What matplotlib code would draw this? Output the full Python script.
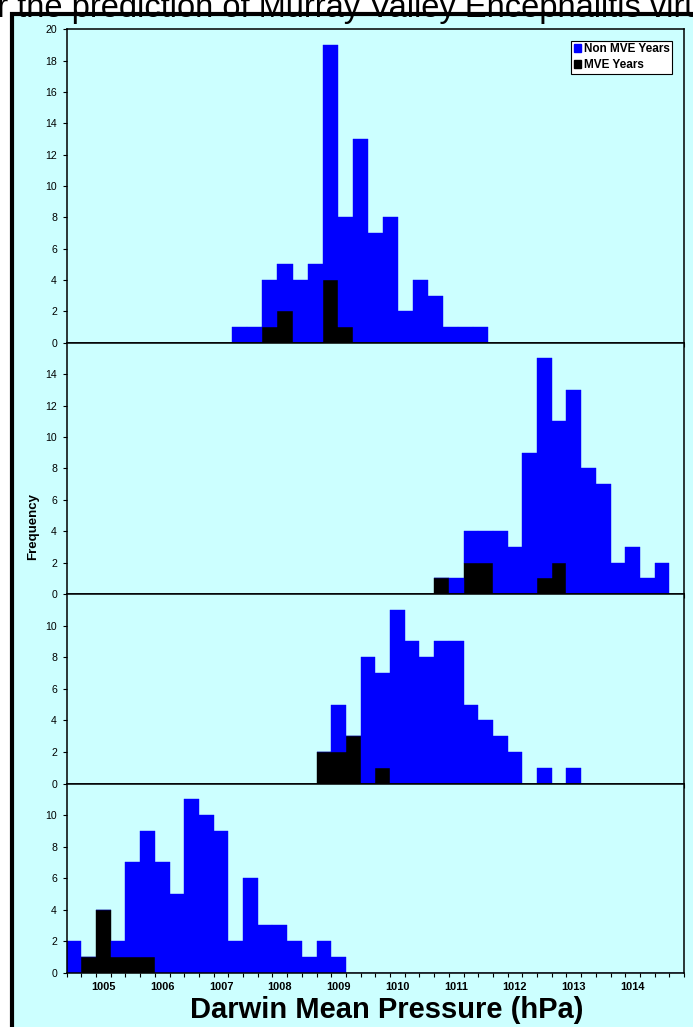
import numpy as np
import matplotlib.pyplot as plt
from matplotlib.patches import Rectangle, Patch

W, H = 693, 1027
plt.rcParams['font.family'] = ['Liberation Sans', 'DejaVu Sans']

# bin centres in hPa (0.25 hPa bins); the autumn chart has one bin fewer
bins_autumn = 1004.5 + 0.25 * np.arange(41)
bins_other = 1004.5 + 0.25 * np.arange(42)

# counts per bin, Non MVE years stacked on MVE years
autumn_non = [0, 0, 0, 0, 0, 0, 0, 0, 0, 0, 0, 1, 1, 3, 3, 4, 5, 15, 7, 13, 7,
              8, 2, 4, 3, 1, 1, 1, 0, 0, 0, 0, 0, 0, 0, 0, 0, 0, 0, 0, 0]
autumn_mve = [0, 0, 0, 0, 0, 0, 0, 0, 0, 0, 0, 0, 0, 1, 2, 0, 0, 4, 1, 0, 0,
              0, 0, 0, 0, 0, 0, 0, 0, 0, 0, 0, 0, 0, 0, 0, 0, 0, 0, 0, 0]

winter_non = [0, 0, 0, 0, 0, 0, 0, 0, 0, 0, 0, 0, 0, 0, 0, 0, 0, 0, 0, 0, 0,
              0, 0, 0, 0, 0, 1, 2, 2, 4, 3, 9, 14, 9, 13, 8, 7, 2, 3, 1, 2, 0]
winter_mve = [0, 0, 0, 0, 0, 0, 0, 0, 0, 0, 0, 0, 0, 0, 0, 0, 0, 0, 0, 0, 0,
              0, 0, 0, 0, 1, 0, 2, 2, 0, 0, 0, 1, 2, 0, 0, 0, 0, 0, 0, 0, 0]

spring_non = [0, 0, 0, 0, 0, 0, 0, 0, 0, 0, 0, 0, 0, 0, 0, 0, 0, 0, 3, 0, 8,
              6, 11, 9, 8, 9, 9, 5, 4, 3, 2, 0, 1, 0, 1, 0, 0, 0, 0, 0, 0, 0]
spring_mve = [0, 0, 0, 0, 0, 0, 0, 0, 0, 0, 0, 0, 0, 0, 0, 0, 0, 2, 2, 3, 0,
              1, 0, 0, 0, 0, 0, 0, 0, 0, 0, 0, 0, 0, 0, 0, 0, 0, 0, 0, 0, 0]

summer_non = [2, 0, 0, 1, 6, 8, 7, 5, 11, 10, 9, 2, 6, 3, 3, 2, 1, 2, 1, 0, 0,
              0, 0, 0, 0, 0, 0, 0, 0, 0, 0, 0, 0, 0, 0, 0, 0, 0, 0, 0, 0, 0]
summer_mve = [0, 1, 4, 1, 1, 1, 0, 0, 0, 0, 0, 0, 0, 0, 0, 0, 0, 0, 0, 0, 0,
              0, 0, 0, 0, 0, 0, 0, 0, 0, 0, 0, 0, 0, 0, 0, 0, 0, 0, 0, 0, 0]

tick_labels = ['1005', '1006', '1007', '1008', '1009', '1010', '1011', '1012', '1013', '1014']
tick_values = [1005, 1006, 1007, 1008, 1009, 1010, 1011, 1012, 1013, 1014]

BG = '#ccffff'
BLUE = '#0000ff'


def fx(px):
    return px / W


def fy(py):
    return 1 - py / H


fig = plt.figure(figsize=(W / 100, H / 100), dpi=100)
fig.patch.set_facecolor('white')

# cyan chart frame (cut off at right and bottom in the source), on a background axes
bg = fig.add_axes([0, 0, 1, 1], zorder=-5)
bg.set_xlim(0, W)
bg.set_ylim(H, 0)
bg.axis('off')
bg.add_patch(Rectangle((12, 14), W + 20, H + 20, facecolor=BG, edgecolor='black', linewidth=3))
bg.text(-30, 17, 'for the prediction of Murray Valley Encephalitis virus',
        fontsize=23.5, va='baseline', ha='left')

# (top, bottom, ymax, top labelled tick, bins, non, mve, title, title position)
panels = [
    (29.3, 342.7, 20, 20, bins_autumn, autumn_non, autumn_mve, 'March-May\n(Autumn)', (438, 101)),
    (342.7, 594, 16, 14, bins_other, winter_non, winter_mve, 'June-August\n(Winter)', (447, 431)),
    (594, 783.5, 12, 10, bins_other, spring_non, spring_mve, 'September-November\n(Spring)', (263, 654)),
    (783.5, 972.7, 12, 10, bins_other, summer_non, summer_mve, 'December-February\n(Summer)', (359, 852)),
]

left, right = 66.7, 684
axes = []
for top, bottom, ymax, ytop, bins, non, mve, title, (tx, ty) in panels:
    ax = fig.add_axes([fx(left), fy(bottom), fx(right - left), (bottom - top) / H])
    ax.set_facecolor(BG)
    ax.bar(bins, mve, width=0.25, color='black', edgecolor='black', linewidth=0.3)
    ax.bar(bins, non, width=0.25, bottom=mve, color=BLUE, edgecolor=BLUE, linewidth=0.3)
    edges = np.append(bins - 0.125, bins[-1] + 0.125)
    ax.set_xlim(edges[0], edges[-1])
    ax.set_ylim(0, ymax)
    ax.set_yticks(np.arange(0, ytop + 1, 2))
    ax.set_xticks(edges, minor=True)
    ax.set_xticks([])
    ax.tick_params(axis='x', which='minor', direction='out', length=3, width=0.8)
    ax.tick_params(axis='y', direction='out', length=3, width=0.8, labelsize=7.6, pad=4)
    for s in ax.spines.values():
        s.set_linewidth(1.1)
    bg.text(tx, ty, title, ha='center', va='center', fontsize=13.8,
            fontweight='bold', linespacing=1.12)
    axes.append(ax)

ax4 = axes[-1]
ax4.set_xticks(tick_values)
ax4.set_xticklabels(tick_labels, fontsize=7.9, fontweight='bold')
ax4.tick_params(axis='x', which='major', length=0, pad=7)

leg = axes[0].legend(handles=[Patch(facecolor=BLUE, edgecolor=BLUE), Patch(facecolor='black', edgecolor='black')],
                     labels=['Non MVE Years', 'MVE Years'], loc='upper right',
                     bbox_to_anchor=(0.981, 0.964), prop={'weight': 'bold', 'size': 8.5},
                     handlelength=0.65, handleheight=0.65, handletextpad=0.2,
                     borderpad=0.22, labelspacing=0.34, borderaxespad=0, fancybox=False,
                     framealpha=1, edgecolor='black')
leg.get_frame().set_linewidth(0.8)

bg.text(33, 527, 'Frequency', rotation=90, ha='center', va='center',
        fontsize=9.5, fontweight='bold')
bg.text(387, 1018, 'Darwin Mean Pressure (hPa)', ha='center', va='baseline',
        fontsize=21, fontweight='bold')

fig.savefig('out.png', dpi=100)
